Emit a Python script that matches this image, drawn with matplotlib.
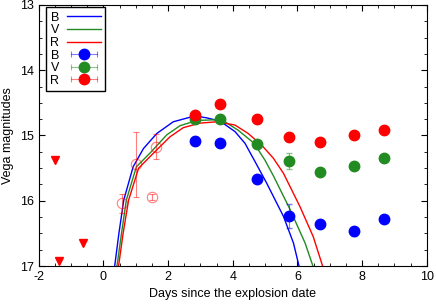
import matplotlib.pyplot as plt
from matplotlib.ticker import MultipleLocator
from matplotlib.lines import Line2D
from matplotlib.legend_handler import HandlerLine2D, HandlerTuple
from matplotlib.colors import to_rgba

plt.rcParams['font.family'] = ['Liberation Sans', 'DejaVu Sans']
plt.rcParams['axes.unicode_minus'] = False

# Observed photometry (days since explosion, Vega magnitudes)
days = [2.84, 3.61, 4.76, 5.73, 6.70, 7.75, 8.69]
mag_B = [15.08, 15.11, 15.66, 16.23, 16.36, 16.47, 16.28]
err_B = [0.06, 0.03, 0.03, 0.18, 0.03, 0.07, 0.03]
mag_V = [14.75, 14.75, 15.13, 15.39, 15.56, 15.47, 15.34]
err_V = [0.03, 0.03, 0.03, 0.12, 0.03, 0.03, 0.03]
mag_R = [14.69, 14.52, 14.75, 15.02, 15.10, 15.00, 14.91]
err_R = [0.03, 0.03, 0.03, 0.03, 0.03, 0.03, 0.03]

# Early open-circle R points
early_t = [0.59, 1.01, 1.51, 1.62]
early_R = [16.04, 15.44, 15.94, 15.17]
early_err = [0.15, 0.50, 0.05, 0.19]

# Upper limits
lim_t = [-1.49, -0.64, -1.38]
lim_R = [15.38, 16.64, 16.93]

# Model curves
curve_B_t = [0.35, 0.48, 0.63, 0.92, 1.24, 1.65, 2.16, 2.68, 2.95, 3.20, 3.61, 4.07, 4.38,
             4.69, 5.05, 5.57, 5.88, 6.05]
curve_B_m = [17.0, 16.50, 15.99, 15.48, 15.20, 14.97, 14.79, 14.72, 14.71, 14.73, 14.78, 14.94,
             15.12, 15.40, 15.73, 16.24, 16.65, 17.0]
curve_V_t = [0.42, 0.56, 0.71, 1.02, 1.48, 1.96, 2.37, 2.89, 3.40, 3.76, 4.17, 4.59, 4.74,
             5.00, 5.26, 5.77, 6.24, 6.48]
curve_V_m = [17.0, 16.50, 15.99, 15.48, 15.25, 14.99, 14.85, 14.77, 14.76, 14.79, 14.92, 15.09,
             15.18, 15.38, 15.62, 16.13, 16.65, 17.0]
curve_R_t = [0.47, 0.61, 0.78, 1.09, 1.55, 2.06, 2.47, 2.99, 3.51, 4.07, 4.48, 4.90, 5.26,
             5.57, 6.08, 6.49, 6.78]
curve_R_m = [17.0, 16.50, 15.99, 15.50, 15.27, 15.02, 14.88, 14.81, 14.79, 14.84, 14.97, 15.15,
             15.35, 15.58, 16.09, 16.55, 17.0]

blue = '#0000ff'
green = '#228b22'
red = '#ff0000'

fig = plt.figure(figsize=(4.36, 3.06), dpi=100)
ax = fig.add_axes([0.0888, 0.1307, 0.8899, 0.853])

l_B, = ax.plot(curve_B_t, curve_B_m, color=blue, lw=1.0)
l_V, = ax.plot(curve_V_t, curve_V_m, color=green, lw=1.0)
l_R, = ax.plot(curve_R_t, curve_R_m, color=red, lw=1.0)

point_handles = []
handler_map = {}
for m, e, c in [(mag_B, err_B, blue), (mag_V, err_V, green), (mag_R, err_R, red)]:
    ax.errorbar(days, m, yerr=e, fmt='o', color=c, ms=7.5, ecolor=to_rgba(c, 0.5),
                elinewidth=0.8, capsize=2)
    # legend sample: horizontal error bar with caps plus the marker
    bar = Line2D([], [], color=to_rgba(c, 0.5), lw=0.8, marker='|', ms=5, mew=0.8)
    dot = Line2D([], [], color=c, ls='none', marker='o', ms=7.5)
    handler_map[bar] = HandlerLine2D(numpoints=2)
    handler_map[dot] = HandlerLine2D(numpoints=1)
    point_handles.append((bar, dot))

ax.errorbar(early_t, early_R, yerr=early_err, fmt='o', mfc='none', mec=red, ms=7.5,
            mew=0.8, ecolor=red, elinewidth=0.8, capsize=2, alpha=0.5)
ax.plot(lim_t, lim_R, 'v', color=red, ms=6)

ax.set_xlim(-2, 10)
ax.set_ylim(17, 13)
ax.xaxis.set_major_locator(MultipleLocator(2))
ax.xaxis.set_minor_locator(MultipleLocator(0.5))
ax.yaxis.set_major_locator(MultipleLocator(1))
ax.yaxis.set_minor_locator(MultipleLocator(0.25))
ax.tick_params(which='both', direction='in', top=True, right=True, labelsize=9)
ax.tick_params(which='major', length=4)
ax.tick_params(which='minor', length=2)

ax.set_xlabel('Days since the explosion date', fontsize=9)
ax.set_ylabel('Vega magnitudes', fontsize=9)

handler_map[tuple] = HandlerTuple(ndivide=1)
ax.legend([l_B, l_V, l_R] + point_handles, ['B', 'V', 'R', 'B', 'V', 'R'],
          handler_map=handler_map, loc='upper left', bbox_to_anchor=(0.018, 0.991),
          borderaxespad=0, markerfirst=False, fontsize=9, frameon=True, fancybox=False,
          edgecolor='black', framealpha=1, handlelength=2.7, borderpad=0.35,
          labelspacing=0.05, handletextpad=0.65)

fig.savefig('out.png', dpi=100)
